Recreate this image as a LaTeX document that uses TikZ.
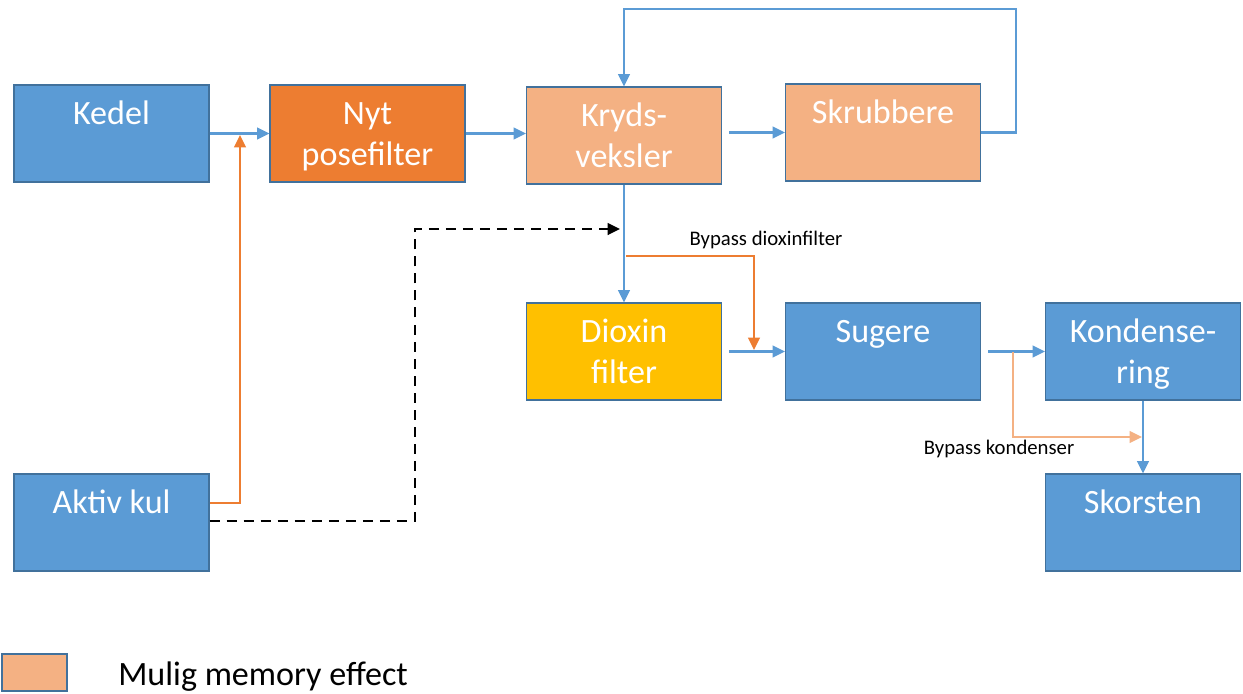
\documentclass[tikz,border=0pt]{standalone}
\usepackage{fontspec}
\setmainfont{Carlito}
\usetikzlibrary{arrows.meta,calc}
\definecolor{boxblue}{HTML}{5B9BD5}
\definecolor{boxorange}{HTML}{ED7D31}
\definecolor{boxpeach}{HTML}{F4B183}
\definecolor{boxgold}{HTML}{FFC000}
\definecolor{boxedge}{HTML}{41719C}
\begin{document}
\begin{tikzpicture}[x=0.02cm,y=-0.02cm,
  box/.style={draw=boxedge,line width=0.6pt,rectangle,minimum width=3.9cm,minimum height=1.94cm,inner sep=0pt},
  boxtxt/.style={text=white,font=\fontsize{19.4}{23.5}\selectfont,align=center,anchor=base,inner sep=0pt},
  flow/.style={draw=boxblue,line width=1.5pt,-{Triangle[length=7pt,width=6.5pt]}},
  lbl/.style={font=\fontsize{11.8}{14}\selectfont,inner sep=0pt}]
\useasboundingbox (0,0) rectangle (1243,693);

% Process boxes
\node[box,fill=boxblue] (kedel) at (111.5,133.5) {};
\node[box,fill=boxorange] (nyt) at (367.5,133.5) {};
\node[box,fill=boxpeach] (kryds) at (624,135.5) {};
\node[box,fill=boxpeach] (skrub) at (883,132.5) {};
\node[box,fill=boxgold] (dioxin) at (624,351.5) {};
\node[box,fill=boxblue] (sugere) at (883,351.5) {};
\node[box,fill=boxblue] (kond) at (1143,351.5) {};
\node[box,fill=boxblue] (skorsten) at (1143,522.5) {};
\node[box,fill=boxblue] (aktiv) at (111.5,522.5) {};

% Box texts (base = last line)
\node[boxtxt] (kedeltxt) at ($(kedel.north)+(0,40)$) {Kedel};
\node[boxtxt] (nyttxt) at ($(nyt.north)+(0,81)$) {Nyt\\posefilter};
\node[boxtxt] (krydstxt) at ($(kryds.north)+(0,81)$) {Kryds-\\veksler};
\node[boxtxt] (skrubtxt) at ($(skrub.north)+(0,40)$) {Skrubbere};
\node[boxtxt] (dioxintxt) at ($(dioxin.north)+(0,81)$) {Dioxin\\filter};
\node[boxtxt] (sugeretxt) at ($(sugere.north)+(0,40)$) {Sugere};
\node[boxtxt] (kondtxt) at ($(kond.north)+(0,81)$) {Kondense-\\ring};
\node[boxtxt] (skorstentxt) at ($(skorsten.north)+(0,40)$) {Skorsten};
\node[boxtxt] (aktivtxt) at ($(aktiv.north)+(0,40)$) {Aktiv kul};

% Turning points
\coordinate (looptop) at (624,9);
\coordinate (kulin) at (240,135);
\coordinate (dashturn) at (415,229);
\coordinate (dashend) at (620,229);
\coordinate (bypdiox) at (626,256);
\coordinate (bypdioxend) at (754,350);
\coordinate (bypkond) at (1013,352);
\coordinate (bypkondend) at (1142,437);

% Main flow
\draw[flow] (kedel.east) -- (nyt.west);
\draw[flow] (nyt.east) -- (nyt.east -| kryds.west);
\draw[flow,shorten <=4] (kryds.east |- skrub.west) -- (skrub.west);
\draw[flow] (skrub.east) -- ++(35,0) |- (looptop) -- (kryds.north);
\draw[flow] (kryds.south) -- (dioxin.north);
\draw[flow,shorten <=4] (dioxin.east) -- (sugere.west);
\draw[flow,shorten <=4] (sugere.east) -- (kond.west);
\draw[flow] (kond.south) -- (skorsten.north);

% Activated carbon feed
\draw[flow,draw=boxorange] ($(aktiv.east)+(0,-19.5)$) -| (kulin);
\draw[flow,draw=black,line width=1.6pt,dash pattern=on 5.7pt off 4pt] ($(aktiv.east)+(0,-1.5)$) -| (dashturn) -- (dashend);

% Bypasses
\draw[flow,draw=boxorange] (bypdiox) -| (bypdioxend);
\node[lbl] (bypdioxlbl) at (766,240) {Bypass dioxinfilter};
\draw[flow,draw=boxpeach] (bypkond) |- (bypkondend);
\node[lbl] (bypkondlbl) at (999,449) {Bypass kondenser};

% Legend
\node[draw=boxedge,line width=0.6pt,fill=boxpeach,minimum width=1.3cm,minimum height=0.74cm,inner sep=0pt] (legbox) at (34.5,672.5) {};
\node[font=\fontsize{19.4}{22.7}\selectfont,anchor=base west,inner sep=0pt] (legtxt) at (118,685) {Mulig memory effect};
\end{tikzpicture}
\end{document}
